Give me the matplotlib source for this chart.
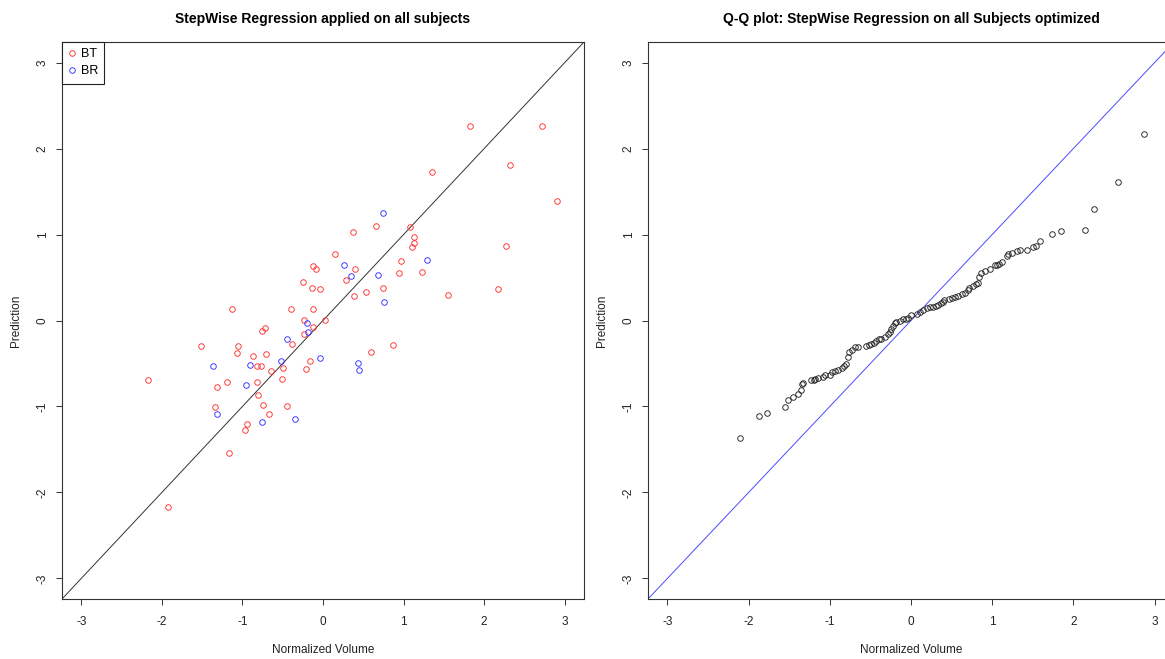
import numpy as np
import matplotlib.pyplot as plt

plt.rcParams['font.family'] = ['Liberation Sans', 'DejaVu Sans']
plt.rcParams['axes.unicode_minus'] = False

# Observed normalized volume vs. stepwise-regression prediction, per group
bt_volume = [-0.128, -0.087, -0.245, -0.141, -0.041, -1.125, -0.399, -0.128, -0.233, 0.021,
             -0.128, -0.723, -0.760, -0.240, -1.520, -1.055, -0.390, -1.063, -0.707, -0.872,
             -0.166, -0.819, -0.769, -0.495, -0.212, -0.648, -2.177, -1.196, -0.822, -0.515,
             -1.321, -0.810, -1.337, -0.748, -0.449, -0.669, -0.947, -0.963, 0.660, 0.374,
             1.080, 1.134, 1.134, 1.109, 0.146, 0.963, 0.402, 0.283, 0.938, 1.225,
             0.744, 0.536, 0.390, 1.549, 0.869, 0.602, 1.819, 2.713, 1.350, 2.322,
             2.903, 2.268, 2.168, -1.928, -1.171]
bt_prediction = [0.632, 0.600, 0.448, 0.381, 0.361, 0.136, 0.128, 0.136, 0.003, 0.003,
                 -0.073, -0.090, -0.120, -0.155, -0.291, -0.291, -0.271, -0.376, -0.388, -0.416,
                 -0.474, -0.527, -0.532, -0.551, -0.567, -0.582, -0.690, -0.710, -0.718, -0.683,
                 -0.772, -0.861, -1.009, -0.986, -0.993, -1.083, -1.207, -1.269, 1.098, 1.024,
                 1.091, 0.974, 0.900, 0.858, 0.772, 0.687, 0.597, 0.474, 0.547, 0.567,
                 0.381, 0.329, 0.288, 0.295, -0.288, -0.364, 2.262, 2.262, 1.726, 1.804,
                 1.393, 0.865, 0.364, -2.165, -1.545]

br_volume = [-0.199, -0.191, -0.445, -0.523, -0.041, -1.362, -0.906, -0.956, -1.312, -0.760,
             -0.345, 0.744, 0.258, 0.349, 1.296, 0.685, 0.760, 0.436, 0.452]
br_prediction = [-0.027, -0.136, -0.213, -0.466, -0.439, -0.532, -0.516, -0.749, -1.083, -1.176,
                 -1.141, 1.249, 0.640, 0.512, 0.707, 0.532, 0.213, -0.489, -0.574]

# Optimized model: sample quantiles of volume and prediction
qq_volume = [-2.104, -1.869, -1.779, -1.556, -1.510, -1.452, -1.391, -1.358, -1.341, -1.334,
             -1.226, -1.201, -1.180, -1.143, -1.078, -1.062, -0.995, -0.970, -0.942, -0.905,
             -0.852, -0.831, -0.797, -0.778, -0.765, -0.732, -0.695, -0.654, -0.550, -0.518,
             -0.488, -0.460, -0.426, -0.394, -0.365, -0.324, -0.283, -0.262, -0.241, -0.221,
             -0.200, -0.179, -0.138, -0.098, -0.064, -0.036, 0.006, 0.068, 0.109, 0.150,
             0.192, 0.232, 0.273, 0.307, 0.335, 0.365, 0.389, 0.409, 0.471, 0.501,
             0.541, 0.582, 0.624, 0.665, 0.698, 0.718, 0.768, 0.801, 0.826, 0.834,
             0.863, 0.916, 0.974, 1.040, 1.057, 1.089, 1.119, 1.184, 1.197, 1.250,
             1.304, 1.345, 1.431, 1.502, 1.534, 1.592, 1.737, 1.843, 2.140, 2.256,
             2.556, 2.869]
qq_prediction = [-1.370, -1.111, -1.076, -1.009, -0.928, -0.889, -0.850, -0.811, -0.741, -0.730,
                 -0.698, -0.687, -0.675, -0.664, -0.657, -0.637, -0.637, -0.598, -0.587, -0.579,
                 -0.552, -0.532, -0.501, -0.424, -0.366, -0.346, -0.314, -0.307, -0.299, -0.288,
                 -0.268, -0.261, -0.237, -0.221, -0.214, -0.191, -0.159, -0.136, -0.101, -0.066,
                 -0.031, -0.014, 0.000, 0.012, 0.023, 0.033, 0.062, 0.081, 0.097, 0.120,
                 0.151, 0.158, 0.158, 0.170, 0.178, 0.198, 0.221, 0.242, 0.248, 0.260,
                 0.275, 0.286, 0.303, 0.321, 0.353, 0.380, 0.399, 0.419, 0.431, 0.508,
                 0.547, 0.577, 0.597, 0.640, 0.647, 0.655, 0.675, 0.752, 0.768, 0.787,
                 0.810, 0.822, 0.824, 0.857, 0.868, 0.923, 1.005, 1.040, 1.048, 1.299,
                 1.610, 2.172]

ticks = [-3, -2, -1, 0, 1, 2, 3]
limits = (-3.24, 3.24)

W, H = 1165, 659
fig = plt.figure(figsize=(W / 100, H / 100), dpi=100)


def px_box(left, top, right, bottom):
    return [left / W, 1 - bottom / H, (right - left) / W, (bottom - top) / H]


ax1 = fig.add_axes(px_box(62, 42, 584, 599))
ax2 = fig.add_axes(px_box(648, 42, 1174, 599))

for ax in (ax1, ax2):
    ax.set_xlim(limits)
    ax.set_ylim(limits)
    ax.set_xticks(ticks)
    ax.set_yticks(ticks)
    ax.tick_params(direction='out', length=4.5, width=0.7, color='#333333',
                   labelsize=8.5, labelcolor='#222222')
    ax.tick_params(axis='x', pad=7.5)
    ax.tick_params(axis='y', pad=5)
    for lab in ax.get_yticklabels():
        lab.set_rotation(90)
        lab.set_va('center')
    for sp in ax.spines.values():
        sp.set_color('#333333')
        sp.set_linewidth(0.8)
    ax.set_xlabel('Normalized Volume', fontsize=8.5, labelpad=12, color='#222222')
    ax.set_ylabel('Prediction', fontsize=8.5, labelpad=11, color='#222222')

marker_kw = dict(marker='o', linestyle='none', markersize=4.0, markerfacecolor='none',
                 markeredgewidth=0.65)

ax1.axline((0, 0), slope=1, color='#333333', linewidth=0.7)
ax1.plot(bt_volume, bt_prediction, markeredgecolor='#ff3030', label='BT', **marker_kw)
ax1.plot(br_volume, br_prediction, markeredgecolor='#3030ff', label='BR', **marker_kw)
ax1.set_title('StepWise Regression applied on all subjects', fontsize=10,
              fontweight='bold', pad=14)
leg = ax1.legend(loc='upper left', borderaxespad=0, fancybox=False, framealpha=1,
                 edgecolor='#222222', fontsize=9, handlelength=0.6, handletextpad=0.4,
                 borderpad=0.5, labelspacing=0.4)
leg.get_frame().set_linewidth(0.8)

ax2.axline((0, 0), slope=1, color='#4a4aff', linewidth=0.7)
ax2.plot(np.sort(qq_volume), np.sort(qq_prediction), markeredgecolor='#222222', **marker_kw)
ax2.set_title('Q-Q plot: StepWise Regression on all Subjects optimized', fontsize=10,
              fontweight='bold', pad=14)

fig.savefig('out.png', dpi=100)
